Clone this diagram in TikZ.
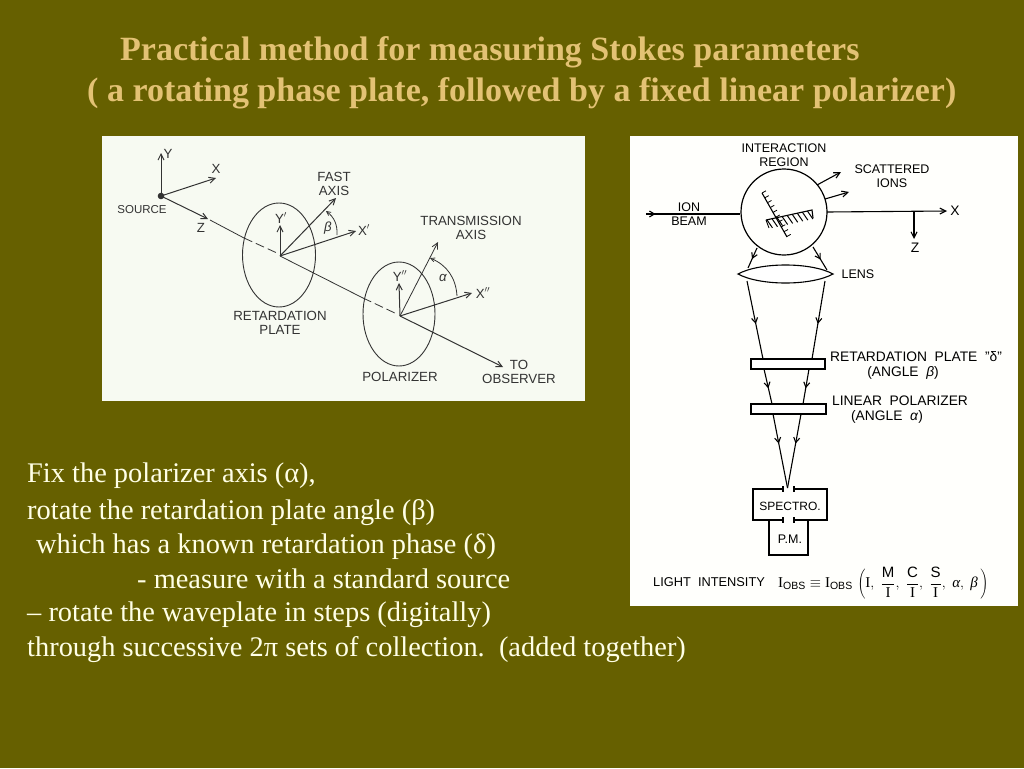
\documentclass[tikz,border=0pt]{standalone}
\usepackage{fontspec}
\setmainfont{Liberation Serif}
\setsansfont{Liberation Sans}
\usetikzlibrary{arrows.meta,shapes.geometric,decorations.markings,calc}
\definecolor{olivebg}{HTML}{666000}
\definecolor{titlecol}{HTML}{E3C274}
\definecolor{bodycol}{HTML}{FFFFE6}
\definecolor{panelA}{HTML}{F7FAF2}
\definecolor{panelB}{HTML}{FFFFFC}
\definecolor{inkA}{HTML}{333333}
\tikzset{
  x=1pt,y=-1pt,
  titletext/.style={anchor=base west,inner sep=0pt,text=titlecol,font=\bfseries\fontsize{34}{36}\selectfont},
  bodytext/.style={anchor=base west,inner sep=0pt,text=bodycol,font=\fontsize{28.4}{30}\selectfont},
  lab/.style={inner sep=0pt,align=center,text=inkA,font=\sffamily\fontsize{13.3}{13.5}\selectfont},
  labs/.style={inner sep=0pt,align=center,text=inkA,font=\sffamily\fontsize{11.5}{13.5}\selectfont},
  labr/.style={inner sep=0pt,align=center,text=black,font=\sffamily\fontsize{12.5}{13.5}\selectfont},
  labw/.style={inner sep=0pt,align=center,text=black,font=\sffamily\fontsize{13.8}{15.5}\selectfont},
  axisA/.style={draw=inkA,line width=1pt,-{Straight Barb[length=6pt,width=6pt]}},
  lineA/.style={draw=inkA,line width=0.8pt},
  dashA/.style={draw=inkA,line width=0.8pt,dash pattern=on 9pt off 4pt},
  plateell/.style={ellipse,draw=inkA,line width=0.9pt,inner sep=0pt},
  lineR/.style={draw=black,line width=1.1pt},
  axisR/.style={draw=black,line width=1.1pt,-{Straight Barb[length=6pt,width=6pt]}},
  ray/.style={draw=black,line width=1.1pt,postaction={decorate},
    decoration={markings,mark=at position #1 with {\arrow{Straight Barb[length=5pt,width=6pt]}}}},
  ray/.default=0.7,
  plateR/.style={draw=black,line width=1.2pt,fill=white,inner sep=0pt},
}
\begin{document}
\begin{tikzpicture}
\useasboundingbox (0,0) rectangle (1024,768);
\fill[olivebg] (0,0) rectangle (1024,768);
% title
\node[titletext] (title1) at (120,60) {Practical method for measuring Stokes parameters};
\node[titletext] (title2) at (87,101) {( a rotating phase plate, followed by a fixed linear polarizer)};
% panels
\fill[panelA] (102,136) rectangle (585,401);
\fill[panelB] (630,136) rectangle (1018,606);
% ---------- left panel
\coordinate (src) at (161,196);
\coordinate (yA) at (161,153);
\coordinate (xA) at (216,178);
\coordinate (zA) at (208,219);
\coordinate (o1) at (280,256);
\coordinate (o2) at (400,316);
\node[plateell,minimum width=73pt,minimum height=104pt] (ell1) at (279,255) {};
\node[plateell,minimum width=72pt,minimum height=104pt] (ell2) at (399,314) {};
\fill[inkA] (src) circle (3.3pt);
\node[inner sep=0pt] (srcdot) at (src) {};
\draw[axisA] (src) -- (yA);
\draw[axisA] (src) -- (xA);
\draw[axisA] (src) -- (zA);
\coordinate (l1a) at (210,220);
\coordinate (l1b) at (244,238);
\coordinate (l1c) at (277,253);
\draw[lineA] (l1a) -- (l1b);
\draw[dashA] (l1b) -- (l1c);
\coordinate (y1) at (280,225);
\coordinate (fast) at (336,198);
\coordinate (x1) at (356,231);
\coordinate (l2a) at (363,298);
\coordinate (l2b) at (397,314);
\draw[axisA] (o1) -- (y1);
\draw[axisA] (o1) -- (fast);
\draw[axisA] (o1) -- (x1);
\draw[lineA] (o1) -- (l2a);
\draw[dashA] (l2a) -- (l2b);
\coordinate (y2) at (399,283);
\coordinate (trans) at (438,242);
\coordinate (x2) at (472,293);
\coordinate (obs) at (503,367);
\draw[axisA] (o2) -- (y2);
\draw[axisA,line width=0.8pt] (o2) -- (trans);
\draw[axisA] (o2) -- (x2);
\draw[axisA] (o2) -- (obs);
\coordinate (ba) at (337,235);
\coordinate (bb) at (326,211);
\draw[lineA,-{Straight Barb[length=4pt,width=4pt]}] (ba) to[bend right=28] (bb);
\coordinate (aa) at (457,296);
\coordinate (ab) at (430,258);
\draw[lineA,-{Straight Barb[length=4pt,width=4pt]}] (aa) to[bend right=32] (ab);
\node[lab] (tY) at (168,154) {Y};
\node[lab] (tX) at (216,169) {X};
\node[lab] (tZ) at (201,228) {Z};
\node[labs] (tSrc) at (142,210) {SOURCE};
\node[lab] (tFast) at (334,184) {FAST\\AXIS};
\node[lab] (tY1) at (281,218) {Y$'$};
\node[lab,font=\sffamily\itshape\fontsize{13.3}{13.5}\selectfont] (tBeta) at (328,228) {β};
\node[lab] (tX1) at (364,230) {X$'$};
\node[lab] (tRet) at (280,323) {RETARDATION\\PLATE};
\node[lab] (tTrans) at (471,228) {TRANSMISSION\\AXIS};
\node[lab] (tY2) at (400,276) {Y$''$};
\node[lab,font=\sffamily\itshape\fontsize{13.3}{13.5}\selectfont] (tAlpha) at (443,278) {α};
\node[lab] (tX2) at (483,293) {X$''$};
\node[lab] (tPol) at (400,377) {POLARIZER};
\node[lab] (tObs) at (519,372) {TO\\OBSERVER};
% ---------- right panel
\node[circle,draw=black,line width=1.2pt,minimum size=86pt,inner sep=0pt] (ir) at (784,212) {};
\coordinate (ibS) at (646,214);
\draw[ray=0.1] (ibS) -- (ir.west |- ibS);
\coordinate (xE) at (947,211);
\coordinate (xS) at (827,212);
\draw[axisR] (xS) -- (xE);
\coordinate (zT) at (914,212);
\coordinate (zB) at (914,239);
\draw[axisR] (zT) -- (zB);
\coordinate (s1a) at (817,185);
\coordinate (s1b) at (841,172);
\coordinate (s2a) at (825,199);
\coordinate (s2b) at (849,192);
\draw[axisR] (s1a) -- (s1b);
\draw[axisR] (s2a) -- (s2b);
% axes inside circle
\coordinate (h1a) at (762,193);
\coordinate (h1b) at (787,237);
\coordinate (h2a) at (766,220);
\coordinate (h2b) at (812,210);
\coordinate (h2c) at (813,218);
\draw[lineR] (h1a) -- (h1b);
\draw[lineR] (h2a) -- (h2b) -- (h2c);
\foreach \t in {0,0.11,...,1.01} {
  \draw[lineR,line width=0.8pt] ($(h1a)!\t!(h1b)$) -- ++(4,-2.2);
}
\foreach \t in {0.02,0.13,...,0.95} {
  \draw[lineR,line width=1pt] ($(h2a)!\t!(h2b)$) -- ++(5.5,8);
}
\draw[lineR,line width=0.9pt] (h2a) -- ++(3,8);
% lens
\coordinate (lensL) at (738,274);
\coordinate (lensR) at (833,274);
\draw[lineR,fill=white] (lensL) .. controls (760,262) and (811,262) .. (lensR)
   .. controls (811,286) and (760,286) .. (lensL) -- cycle;
\coordinate (r1a) at (757,248);
\coordinate (r1b) at (748,268);
\coordinate (r2a) at (813,247);
\coordinate (r2b) at (827,270);
\draw[ray=0.55] (r1a) -- (r1b);
\draw[ray=0.55] (r2a) -- (r2b);
\coordinate (r3a) at (747,281);
\coordinate (r3b) at (763,359);
\coordinate (r4a) at (825,281);
\coordinate (r4b) at (812,359);
\draw[ray=0.55] (r3a) -- (r3b);
\draw[ray=0.55] (r4a) -- (r4b);
\node[plateR,minimum width=74pt,minimum height=10pt] (p1) at (788,364) {};
\node[plateR,minimum width=75pt,minimum height=10pt] (p2) at (788.5,409) {};
\coordinate (r5a) at (764,369);
\coordinate (r5b) at (772,404);
\coordinate (r6a) at (809,369);
\coordinate (r6b) at (803,404);
\draw[ray=0.55] (r5a) -- (r5b);
\draw[ray=0.55] (r6a) -- (r6b);
\coordinate (r7a) at (773,414);
\coordinate (r8a) at (801,414);
\coordinate (foc) at (787.5,488);
\draw[ray=0.4] (r7a) -- (foc);
\draw[ray=0.4] (r8a) -- (foc);
% spectrometer
\coordinate (sTL) at (753,489);
\coordinate (sTR) at (827,489);
\coordinate (sBL) at (753,520);
\coordinate (sBR) at (827,520);
\coordinate (g1) at (783,489);
\coordinate (g2) at (794,489);
\coordinate (g3) at (783,520);
\coordinate (g4) at (794,520);
\coordinate (pTL) at (769,520);
\coordinate (pTR) at (808,520);
\coordinate (pBL) at (769,555);
\coordinate (pBR) at (808,555);
\draw[lineR] (g1) -- (sTL) -- (sBL) -- (g3);
\draw[lineR] (g2) -- (sTR) -- (sBR) -- (g4);
\draw[lineR] (pTL) -- (pBL) -- (pBR) -- (pTR);
\foreach \g in {g1,g2,g3,g4} \draw[lineR] ($(\g)+(0,-3)$) -- ($(\g)+(0,3)$);
\node[labr] (tIR) at (784,155) {INTERACTION\\REGION};
\node[labr] (tSc) at (892,176) {SCATTERED\\IONS};
\node[labr] (tIon) at (689,214) {ION\\BEAM};
\node[labw] (tXr) at (955,211) {X};
\node[labw] (tZr) at (915,248) {Z};
\node[labr] (tLens) at (858,274) {LENS};
\node[labw,anchor=west] (tRP) at (830,357) {RETARDATION\ \ PLATE\ \ "δ"};
\node[labw] (tAb) at (903,373) {(ANGLE\ \ \textit{β})};
\node[labw,anchor=west] (tLP) at (832,401) {LINEAR\ \ POLARIZER};
\node[labw] (tAa) at (887,417) {(ANGLE\ \ \textit{α})};
\node[labr,font=\sffamily\fontsize{12}{13.5}\selectfont] (tSp) at (790,506) {SPECTRO.};
\node[labr] (tPM) at (790,539) {P.M.};
\node[labr,anchor=base west,font=\sffamily\fontsize{12.8}{14}\selectfont] (tLI) at (653,586) {LIGHT\ \ INTENSITY};
\node[labr,anchor=west,font=\fontsize{15}{17}\selectfont] (tEq) at (778,583) {$\displaystyle\mathrm{I}_{\textsf{\fontsize{10.5}{11}\selectfont OBS}}\equiv\mathrm{I}_{\textsf{\fontsize{10.5}{11}\selectfont OBS}}\,\left(\mathrm{I},\;\frac{\textsf{M}}{\mathrm{I}},\;\frac{\textsf{C}}{\mathrm{I}},\;\frac{\textsf{S}}{\mathrm{I}},\;\textit{α},\;\textit{β}\,\right)$};
% body text
\node[bodytext] (b1) at (27,482) {Fix the polarizer axis (α),};
\node[bodytext] (b2) at (27,519) {rotate the retardation plate angle (β)};
\node[bodytext] (b3) at (36,553) {which has a known retardation phase (δ)};
\node[bodytext] (b4) at (137,588) {- measure with a standard source};
\node[bodytext] (b5) at (27,621) {– rotate the waveplate in steps (digitally)};
\node[bodytext] (b6) at (27,656) {through successive 2π sets of collection.\ \ (added together)};
\end{tikzpicture}
\end{document}
